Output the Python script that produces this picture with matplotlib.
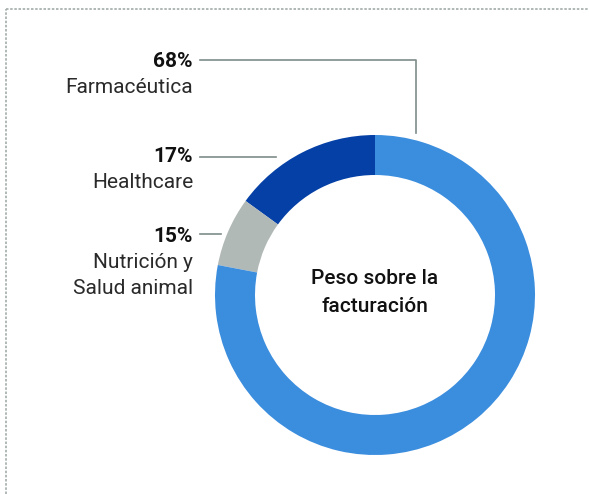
import matplotlib
matplotlib.use('Agg')
import matplotlib.pyplot as plt

plt.rcParams['font.family'] = ['Roboto', 'DejaVu Sans']

# shares as drawn in the ring (counter-clockwise from 12 o'clock)
segments = ['Healthcare', 'Nutrición y\nSalud animal', 'Farmacéutica']
shares = [15, 7, 78]
colors = ['#0540A6', '#B1B9B7', '#3B8DDE']

# labels printed on the left
pct_labels = ['68%', '17%', '15%']
name_labels = ['Farmacéutica', 'Healthcare', 'Nutrición y\nSalud animal']
center_text = 'Peso sobre la\nfacturación'

W, H = 589, 494
fig = plt.figure(figsize=(W / 100, H / 100), dpi=100)
ax = fig.add_axes([0, 0, 1, 1])

cx, cy = 375, H - 295
ax.pie(shares, colors=colors, startangle=90, counterclock=True,
       center=(cx, cy), radius=160, frame=True,
       wedgeprops=dict(width=40, linewidth=0))
ax.set_xlim(0, W)
ax.set_ylim(0, H)
ax.set_aspect('equal')
ax.axis('off')

for i, line in enumerate(center_text.split('\n')):
    ax.text(cx, H - 278 - 29 * i, line, ha='center', va='center',
            fontsize=15, fontweight='medium', color='#111111')

# dotted frame
border = '#A3ADAB'
ax.plot([6, W], [H - 9, H - 9], color=border, lw=1.2, ls=(0, (1.5, 1)))
ax.plot([6, 6], [0, H - 9], color=border, lw=1.2, ls=(0, (1.5, 1)))

# labels and leaders
lead = '#7D8C8A'
label_y = [62, 156, 236]
for pct, name, y in zip(pct_labels, name_labels, label_y):
    ax.text(193, H - y, pct, ha='right', va='center', fontsize=15,
            fontweight='bold', color='#111111')
    for j, line in enumerate(name.split('\n')):
        ax.text(193, H - y - 26 - 27 * j, line, ha='right', va='center',
                fontsize=15, fontweight='normal', color='#2A2A2A')

ax.plot([200, 416, 416], [H - 60, H - 60, H - 133], color=lead, lw=1.2)
ax.plot([200, 276], [H - 157, H - 157], color=lead, lw=1.2)
ax.plot([200, 221], [H - 234, H - 234], color=lead, lw=1.2)

fig.savefig('out.png', dpi=100)
